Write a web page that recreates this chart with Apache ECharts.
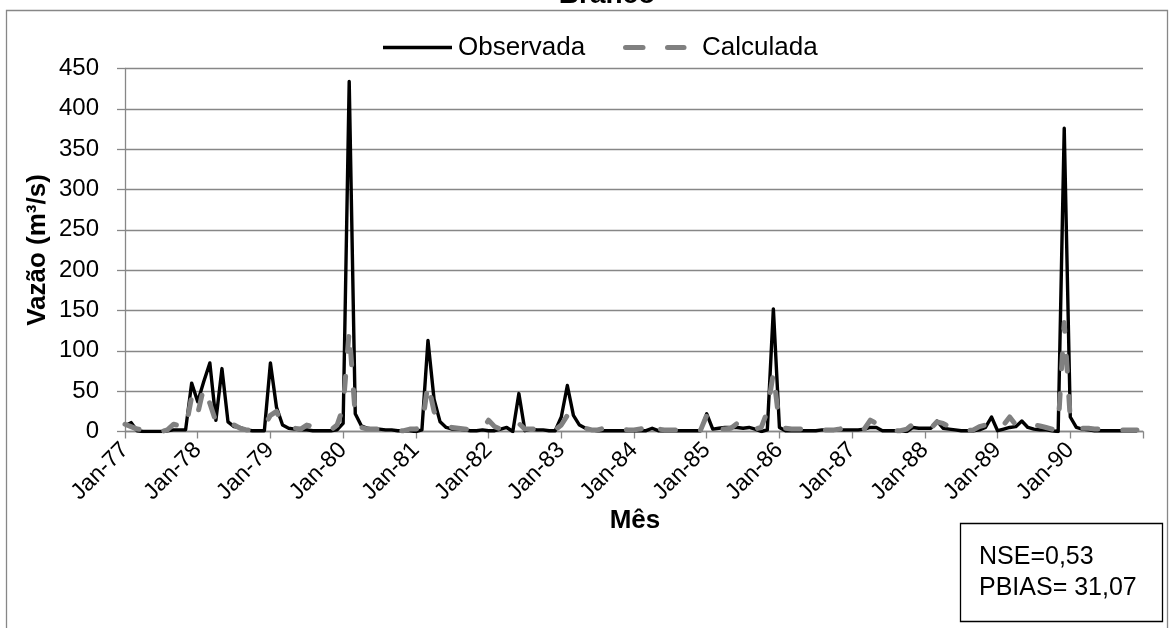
<!DOCTYPE html>
<html>
<head>
<meta charset="utf-8">
<script src="https://cdn.jsdelivr.net/npm/echarts@6/dist/echarts.min.js"></script>
<style>
html,body{margin:0;padding:0;background:#fff;}
#chart{width:1173px;height:628px;}
</style>
</head>
<body>
<div id="chart"></div>
<script>
const monthNames = ['Jan','Feb','Mar','Apr','May','Jun','Jul','Aug','Sep','Oct','Nov','Dec'];
const yearLabels = ['77','78','79','80','81','82','83','84','85','86','87','88','89','90'];
const endLabel = 'Jan-91';
const yTicks = [0, 50, 100, 150, 200, 250, 300, 350, 400, 450];
const seriesNames = ['Observada', 'Calculada'];

const observada = [
  7,11,1,0,0,0,0,1,2,2,2,60,
  37,62,85,14,78,12,6,5,2,1,1,1,
  85,30,8,4,3,2,2,1,1,1,1,2,
  10,434,22,7,4,3,3,2,2,1,1,1,
  0,2,113,40,12,5,3,3,2,1,1,2,
  1,1,3,5,0,47,1,3,2,2,1,1,
  18,57,20,8,4,2,1,1,1,1,1,1,
  1,1,1,4,1,1,1,1,1,1,1,1,
  22,3,4,5,5,5,4,5,3,0,2,152,
  5,1,1,1,1,1,1,2,2,2,2,2,
  2,2,3,5,5,1,1,1,1,0,5,4,
  4,4,13,4,3,2,1,1,1,2,5,18,
  1,3,5,6,13,5,3,2,2,1,0,376,
  18,5,3,2,1,1,1,1,1,1,1,1
];
const calculada = [
  9,6,3,2,1,0,0,2,9,7,3,43,
  22,55,35,12,15,12,8,4,2,2,3,7,
  20,25,8,5,4,3,8,6,4,2,2,8,
  30,125,20,5,3,3,3,3,2,1,1,3,
  3,5,60,25,10,6,5,4,3,2,2,3,
  14,6,3,2,2,10,3,3,3,2,2,2,
  8,20,15,8,4,2,2,4,4,3,3,2,
  2,3,5,12,3,2,2,2,2,2,2,2,
  20,5,3,3,4,10,14,8,3,5,25,73,
  8,4,3,3,3,3,3,2,2,2,3,6,
  3,2,3,14,10,5,2,1,1,3,9,5,
  5,4,12,10,6,4,2,1,2,6,8,3,
  2,8,18,8,6,6,8,7,5,3,5,135,
  15,5,4,4,3,3,2,2,2,2,2,2
];

const categories = [];
yearLabels.forEach(y => monthNames.forEach(m => categories.push(m + '-' + y)));
categories.push(endLabel);

const gridColor = '#878787';
const obsStyle = {color: '#000', width: 3.4};
const calStyle = {color: '#808080', width: 5, dash: [15, 25]};

const chart = echarts.init(document.getElementById('chart'), null, {renderer: 'canvas'});
chart.setOption({
  animation: false,
  backgroundColor: '#fff',
  grid: {left: 125, right: 30, top: 68.5, bottom: 196.5, containLabel: false},
  xAxis: {
    type: 'category',
    data: categories,
    boundaryGap: false,
    axisLine: {lineStyle: {color: gridColor, width: 1.3}},
    axisTick: {show: true, interval: 11, length: 7, lineStyle: {color: gridColor, width: 1.3}},
    axisLabel: {
      interval: 11, rotate: 45, margin: 15,
      fontFamily: 'Liberation Sans', fontSize: 23, color: '#000',
      formatter: v => (v === endLabel ? '' : v)
    },
    splitLine: {show: false}
  },
  yAxis: {
    type: 'value',
    min: yTicks[0], max: yTicks[yTicks.length - 1], interval: 50,
    axisLine: {show: true, lineStyle: {color: gridColor, width: 1.3}},
    axisTick: {show: true, length: 8, lineStyle: {color: gridColor, width: 1.3}},
    axisLabel: {margin: 26, fontFamily: 'Liberation Sans', fontSize: 24, color: '#000'},
    splitLine: {show: true, lineStyle: {color: gridColor, width: 1.3}}
  },
  series: [
    {
      name: seriesNames[0], type: 'line', data: observada,
      symbol: 'none', showSymbol: false,
      lineStyle: {color: obsStyle.color, width: obsStyle.width, join: 'round'},
      itemStyle: {color: obsStyle.color},
      z: 2
    },
    {
      name: seriesNames[1], type: 'line', data: calculada,
      symbol: 'none', showSymbol: false,
      lineStyle: {color: calStyle.color, width: calStyle.width, type: calStyle.dash, cap: 'round', join: 'round'},
      itemStyle: {color: calStyle.color},
      z: 3
    }
  ],
  graphic: [
    {type: 'rect', silent: true, z: -10,
     shape: {x: 6.5, y: 10.5, width: 1161, height: 630},
     style: {fill: null, stroke: '#878787', lineWidth: 1.3}},
    {type: 'text', silent: true, x: 607, y: -5,
     style: {text: 'Branco', font: 'bold 28px "Liberation Sans"', fill: '#000', align: 'center', verticalAlign: 'middle'}},
    // legend
    {type: 'line', silent: true, shape: {x1: 383, y1: 47.5, x2: 452, y2: 47.5},
     style: {stroke: obsStyle.color, lineWidth: obsStyle.width}},
    {type: 'text', silent: true, x: 458, y: 48,
     style: {text: seriesNames[0], font: '26px "Liberation Sans"', fill: '#000', align: 'left', verticalAlign: 'middle'}},
    {type: 'line', silent: true, shape: {x1: 625.5, y1: 47.5, x2: 643, y2: 47.5},
     style: {stroke: calStyle.color, lineWidth: calStyle.width, lineCap: 'round'}},
    {type: 'line', silent: true, shape: {x1: 667.5, y1: 47.5, x2: 684, y2: 47.5},
     style: {stroke: calStyle.color, lineWidth: calStyle.width, lineCap: 'round'}},
    {type: 'text', silent: true, x: 702, y: 48,
     style: {text: seriesNames[1], font: '26px "Liberation Sans"', fill: '#000', align: 'left', verticalAlign: 'middle'}},
    // axis titles
    {type: 'text', silent: true, x: 38, y: 250, rotation: Math.PI / 2,
     style: {text: 'Vazão (m³/s)', font: 'bold 26px "Liberation Sans"', fill: '#000', align: 'center', verticalAlign: 'middle'}},
    {type: 'text', silent: true, x: 635, y: 521,
     style: {text: 'Mês', font: 'bold 26px "Liberation Sans"', fill: '#000', align: 'center', verticalAlign: 'middle'}},
    // stats box
    {type: 'rect', silent: true,
     shape: {x: 960.5, y: 523.5, width: 202, height: 98},
     style: {fill: '#fff', stroke: '#000', lineWidth: 1.3}},
    {type: 'text', silent: true, x: 979, y: 542,
     style: {text: 'NSE=0,53\nPBIAS= 31,07', font: '25px "Liberation Sans"', lineHeight: 31, fill: '#000', align: 'left', verticalAlign: 'top'}}
  ]
});
</script>
</body>
</html>
